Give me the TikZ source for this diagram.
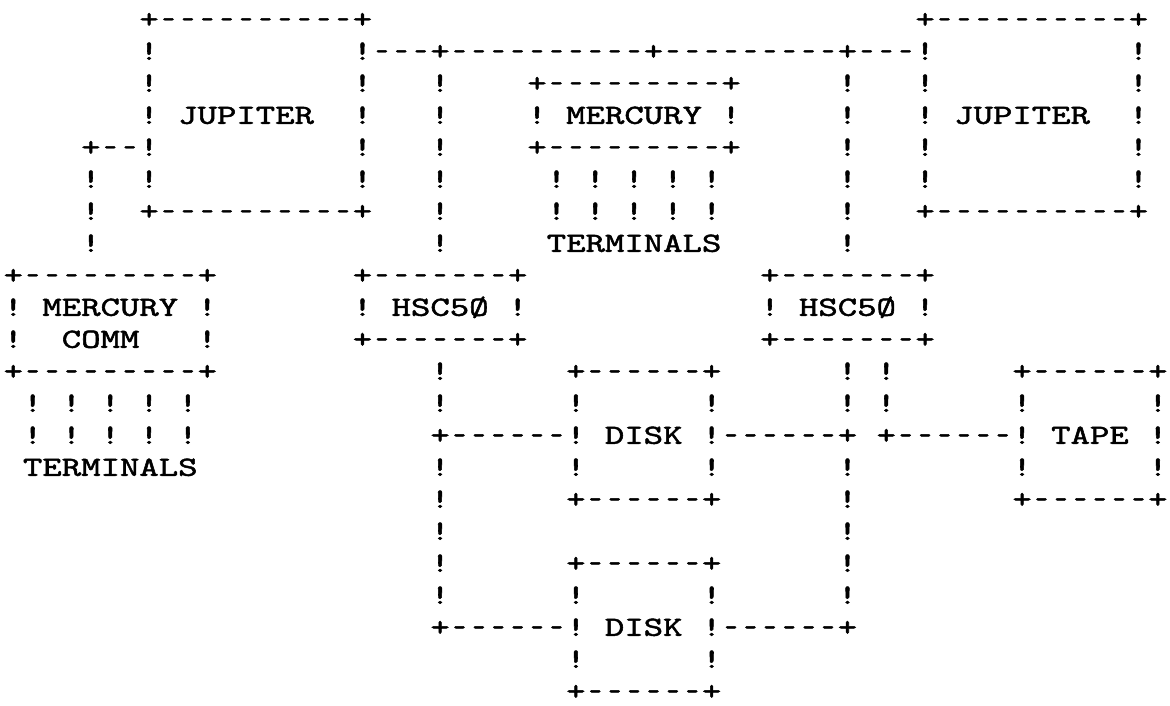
\documentclass[tikz,border=0pt]{standalone}
\usepackage{fontspec}
\usepackage{graphicx}
\newfontfamily\asciifont{lmmono10-regular.otf}[FakeBold=1.5]
\newcommand\asciisize{\asciifont\fontsize{36.95pt}{40pt}\selectfont\frenchspacing}
\newcommand\vsq[1]{\scalebox{1}[0.75]{#1}}
\begingroup\catcode`\-=\active
\gdef-{\makebox[0.525em][c]{\scalebox{0.66}[1]{\char45}}}
\endgroup
\tikzset{ln/.style={anchor=base west, inner sep=0pt, outer sep=0pt, font=\asciisize, text=black}}
\newcommand\seg{\begingroup\catcode`\-=\active\segaux}
\newcommand\segaux[4]{\node[ln] (#1) at ({3.6+19.4*(#2)},{27.8+32.0*(#3)}) {\vsq{#4}};\endgroup}
\begin{document}
\begin{tikzpicture}[x=1pt,y=-1pt]
\useasboundingbox[fill=white] (0,0) rectangle (1170,705);
% row 0
\seg{jupLtop}{7}{0}{+----------+}
\seg{jupRtop}{47}{0}{+----------+}
% row 1
\seg{r1a}{7}{1}{!}
\seg{bus}{18}{1}{!---+----------+---------+---!}
\seg{r1c}{58}{1}{!}
% row 2
\seg{r2a}{7}{2}{!}
\seg{r2b}{18}{2}{!}
\seg{r2c}{22}{2}{!}
\seg{mercTop}{27}{2}{+---------+}
\seg{r2e}{43}{2}{!}
\seg{r2f}{47}{2}{!}
\seg{r2g}{58}{2}{!}
% row 3
\seg{jupL}{7}{3}{! JUPITER}
\seg{r3b}{18}{3}{!}
\seg{r3c}{22}{3}{!}
\seg{merc}{27}{3}{! MERCURY !}
\seg{r3e}{43}{3}{!}
\seg{jupR}{47}{3}{! JUPITER}
\seg{r3g}{58}{3}{!}
% row 4
\seg{r4a}{4}{4}{+--!}
\seg{r4b}{18}{4}{!}
\seg{r4c}{22}{4}{!}
\seg{mercBot}{27}{4}{+---------+}
\seg{r4e}{43}{4}{!}
\seg{r4f}{47}{4}{!}
\seg{r4g}{58}{4}{!}
% row 5
\seg{r5a}{4}{5}{!}
\seg{r5b}{7}{5}{!}
\seg{r5c}{18}{5}{!}
\seg{r5d}{22}{5}{!}
\seg{r5e}{28}{5}{! ! ! ! !}
\seg{r5f}{43}{5}{!}
\seg{r5g}{47}{5}{!}
\seg{r5h}{58}{5}{!}
% row 6
\seg{r6a}{4}{6}{!}
\seg{jupLbot}{7}{6}{+----------+}
\seg{r6c}{22}{6}{!}
\seg{r6d}{28}{6}{! ! ! ! !}
\seg{r6e}{43}{6}{!}
\seg{jupRbot}{47}{6}{+----------+}
% row 7
\seg{r7a}{4}{7}{!}
\seg{r7b}{22}{7}{!}
\seg{termA}{28}{7}{TERMINALS}
\seg{r7d}{43}{7}{!}
% row 8
\seg{commTop}{0}{8}{+---------+}
\seg{hscLtop}{18}{8}{+-------+}
\seg{hscRtop}{39}{8}{+-------+}
% row 9
\seg{comm}{0}{9}{! MERCURY !}
\seg{hscL}{18}{9}{! HSC5Ø !}
\seg{hscR}{39}{9}{! HSC5Ø !}
% row 10
\seg{r10a}{0}{10}{!}
\seg{commB}{3}{10}{COMM}
\seg{r10c}{10}{10}{!}
\seg{hscLbot}{18}{10}{+-------+}
\seg{hscRbot}{39}{10}{+-------+}
% row 11
\seg{commBot}{0}{11}{+---------+}
\seg{r11b}{22}{11}{!}
\seg{disk1top}{29}{11}{+------+}
\seg{r11d}{43}{11}{! !}
\seg{tapeTop}{52}{11}{+------+}
% row 12
\seg{r12a}{1}{12}{! ! ! ! !}
\seg{r12b}{22}{12}{!}
\seg{r12c}{29}{12}{!}
\seg{r12d}{36}{12}{!}
\seg{r12e}{43}{12}{! !}
\seg{r12f}{52}{12}{!}
\seg{r12g}{59}{12}{!}
% row 13
\seg{r13a}{1}{13}{! ! ! ! !}
\seg{disk1}{22}{13}{+------! DISK !------+}
\seg{tape}{45}{13}{+------! TAPE !}
% row 14
\seg{termB}{1}{14}{TERMINALS}
\seg{r14b}{22}{14}{!}
\seg{r14c}{29}{14}{!}
\seg{r14d}{36}{14}{!}
\seg{r14e}{43}{14}{!}
\seg{r14f}{52}{14}{!}
\seg{r14g}{59}{14}{!}
% row 15
\seg{r15a}{22}{15}{!}
\seg{disk1bot}{29}{15}{+------+}
\seg{r15c}{43}{15}{!}
\seg{tapeBot}{52}{15}{+------+}
% row 16
\seg{r16a}{22}{16}{!}
\seg{r16b}{43}{16}{!}
% row 17
\seg{r17a}{22}{17}{!}
\seg{disk2top}{29}{17}{+------+}
\seg{r17c}{43}{17}{!}
% row 18
\seg{r18a}{22}{18}{!}
\seg{r18b}{29}{18}{!}
\seg{r18c}{36}{18}{!}
\seg{r18d}{43}{18}{!}
% row 19
\seg{disk2}{22}{19}{+------! DISK !------+}
% row 20
\seg{r20a}{29}{20}{!}
\seg{r20b}{36}{20}{!}
% row 21
\seg{disk2bot}{29}{21}{+------+}
\end{tikzpicture}
\end{document}
